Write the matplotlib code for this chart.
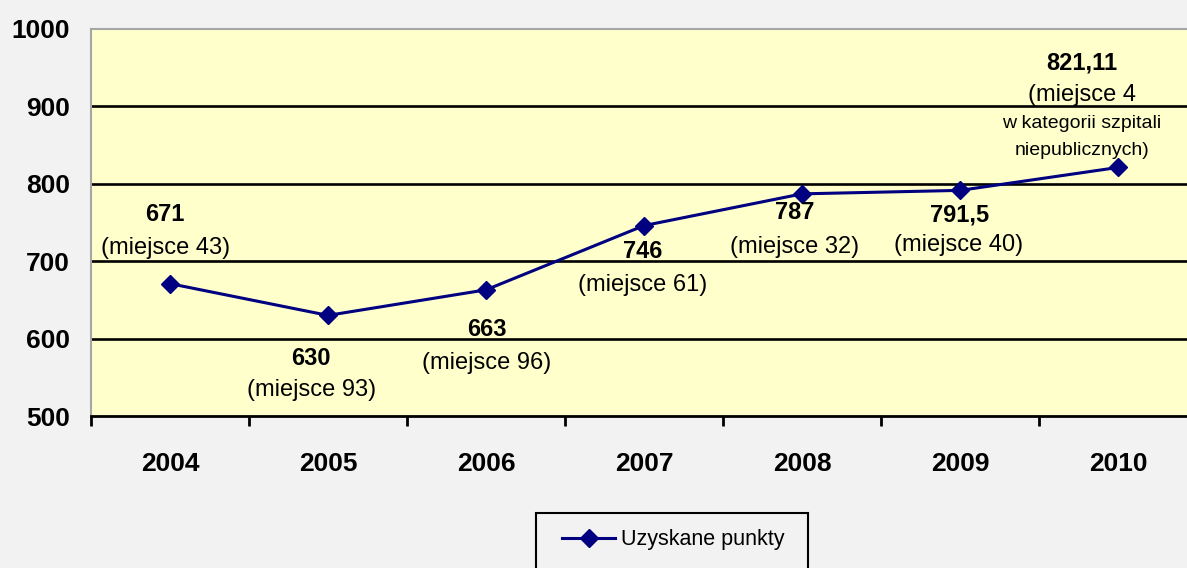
import numpy as np
import matplotlib
matplotlib.use("Agg")
import matplotlib.pyplot as plt
from matplotlib.patches import Rectangle

plt.rcParams['font.family'] = ['Liberation Sans', 'DejaVu Sans']

# data
years = ['2004', '2005', '2006', '2007', '2008', '2009', '2010']
values = [671, 630, 663, 746, 787, 791.5, 821.11]
value_texts = ['671', '630', '663', '746', '787', '791,5', '821,11']
place_texts = ['(miejsce 43)', '(miejsce 93)', '(miejsce 96)', '(miejsce 61)',
               '(miejsce 32)', '(miejsce 40)', '(miejsce 4']
extra_texts = ['w kategorii szpitali', 'niepublicznych)']
y_ticks = [500, 600, 700, 800, 900, 1000]
series_name = 'Uzyskane punkty'

# label offsets from each point, in pixels (bold value, place line)
value_offsets = [(-5, 69), (-17, -43), (1, -40), (-1, -26), (-7, -19), (0, -25), (-36, 104)]
place_offsets = [(-4, 36), (-16, -75), (1, -73), (-1, -59), (-7, -53), (-1, -55), (-36, 72)]
extra_offsets = [(-36, 44), (-36, 17)]

W, H = 1187, 568
fig = plt.figure(figsize=(W / 100, H / 100), dpi=100, facecolor='#F2F2F2')
ax = fig.add_axes([91 / W, 1 - 416 / H, (1197 - 91) / W, (416 - 29) / H])
ax.set_facecolor('#FFFFCC')

x = np.arange(len(years))
ax.set_xlim(-0.5, len(years) - 0.5)
ax.set_ylim(y_ticks[0], y_ticks[-1])

for v in y_ticks[1:-1]:
    ax.axhline(v, color='black', lw=1.9, zorder=1)

ax.plot(x, values, color='#000080', lw=2.2, marker='D', ms=9,
        label=series_name, zorder=3)

# data labels
for i in range(len(values)):
    ax.annotate(value_texts[i], (x[i], values[i]), xytext=value_offsets[i],
                textcoords='offset pixels', ha='center', va='center',
                fontsize=17, fontweight='bold', zorder=4)
    ax.annotate(place_texts[i], (x[i], values[i]), xytext=place_offsets[i],
                textcoords='offset pixels', ha='center', va='center',
                fontsize=17, zorder=4)
last = len(values) - 1
for t, off in zip(extra_texts, extra_offsets):
    ax.annotate(t, (x[last], values[last]), xytext=off,
                textcoords='offset pixels', ha='center', va='center',
                fontsize=14, zorder=4)

# axes styling
ax.set_yticks(y_ticks)
ax.set_yticklabels([str(v) for v in y_ticks])
ax.set_xticks(x)
ax.set_xticklabels(years)
ax.set_xticks(np.arange(len(years) + 1) - 0.5, minor=True)
ax.tick_params(axis='y', length=0, pad=15, labelsize=19)
ax.tick_params(axis='x', which='major', length=0, pad=26, labelsize=19)
ax.tick_params(axis='x', which='minor', length=7, width=2, color='black')
for lab in ax.get_xticklabels() + ax.get_yticklabels():
    lab.set_fontweight('bold')

ax.spines['left'].set_color('#A6A6A6')
ax.spines['top'].set_color('#A6A6A6')
ax.spines['left'].set_linewidth(1.5)
ax.spines['top'].set_linewidth(1.5)
ax.spines['right'].set_visible(False)
ax.spines['bottom'].set_color('black')
ax.spines['bottom'].set_linewidth(2)

# legend
ax.legend(loc='center', bbox_to_anchor=(673 / W, 1 - 540 / H),
          bbox_transform=fig.transFigure, frameon=False, fontsize=15.5,
          handlelength=2.5, handletextpad=0.25)
fig.patches.append(Rectangle((536 / W, 1 - 580 / H), 272 / W, 67 / H,
                             transform=fig.transFigure, fill=False,
                             ec='black', lw=1.5))

fig.savefig('out.png', dpi=100, facecolor=fig.get_facecolor())
